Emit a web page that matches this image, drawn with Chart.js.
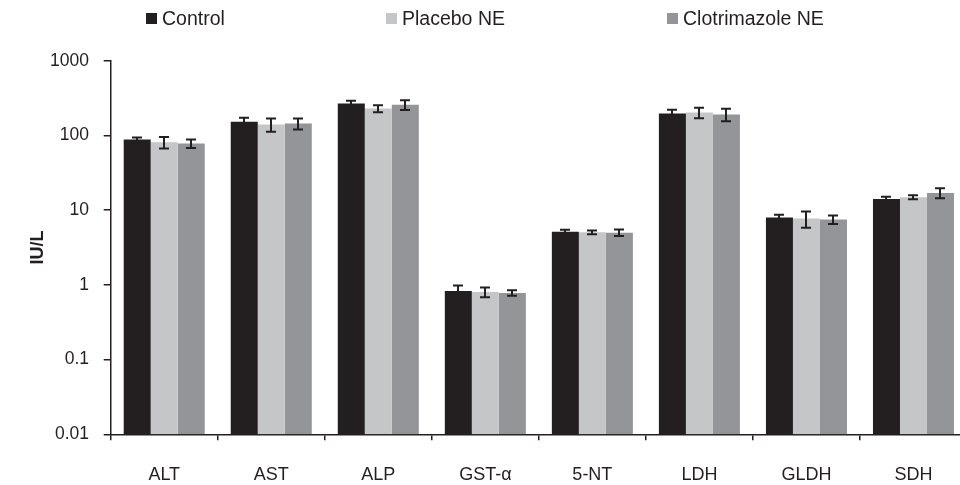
<!DOCTYPE html>
<html>
<head>
<meta charset="utf-8">
<script src="https://cdn.jsdelivr.net/npm/chart.js@4/dist/chart.umd.min.js"></script>
<style>
  html, body { margin: 0; padding: 0; background: #fff; overflow: hidden; width: 960px; height: 485px; }
  #wrap { position: relative; width: 1000px; height: 485px; }
  #chart { position: absolute; left: 0; top: 0; }
  .box { position: absolute; width: 11px; height: 11px; top: 13px; }
  .lbl { position: absolute; top: 8px; font: 19.5px "Liberation Sans", Arial, sans-serif; line-height: 20px; color: #231f20; white-space: nowrap; }
</style>
</head>
<body>
<div id="wrap">
  <canvas id="chart" width="1000" height="485"></canvas>
  <div id="legend"></div>
</div>
<script>
// Serum enzyme activities (IU/L), mean and SD per group
const categories = ['ALT', 'AST', 'ALP', 'GST-\u03b1', '5-NT', 'LDH', 'GLDH', 'SDH'];
const controlMean = [88, 152, 267, 0.83, 5.15, 196, 8.0, 14.1];
const controlSD   = [6, 20, 23, 0.15, 0.3, 24, 0.65, 1.0];
const placeboMean = [81, 140, 229, 0.80, 5.05, 202, 7.7, 14.9];
const placeboSD   = [14, 28, 25, 0.12, 0.3, 32, 1.9, 0.9];
const clotMean    = [78, 144, 257, 0.78, 5.0, 191, 7.5, 17.0];
const clotSD      = [10, 24, 38, 0.065, 0.5, 36, 1.0, 2.6];
const yTicks = [0.01, 0.1, 1, 10, 100, 1000];
const seriesNames = ['Control', 'Placebo NE', 'Clotrimazole NE'];

const INK = '#231f20';
const COLORS = ['#231f20', '#c5c6c8', '#939598'];
const FONT = '"Liberation Sans", Arial, sans-serif';

// legend row above the plot
const legendSpots = [146, 386, 667];
const legend = document.getElementById('legend');
seriesNames.forEach((name, i) => {
  const b = document.createElement('div');
  b.className = 'box';
  b.style.left = legendSpots[i] + 'px';
  b.style.background = COLORS[i];
  const t = document.createElement('div');
  t.className = 'lbl';
  t.style.left = (legendSpots[i] + 16) + 'px';
  t.textContent = name;
  legend.appendChild(b);
  legend.appendChild(t);
});

const sds = [controlSD, placeboSD, clotSD];

// mean ± SD whiskers drawn over each bar
const errorBars = {
  id: 'errorBars',
  afterDatasetsDraw(chart) {
    const ctx = chart.ctx;
    const y = chart.scales.y;
    ctx.save();
    ctx.strokeStyle = INK;
    ctx.lineWidth = 2;
    chart.data.datasets.forEach((ds, i) => {
      const meta = chart.getDatasetMeta(i);
      meta.data.forEach((bar, j) => {
        const m = ds.data[j], sd = sds[i][j];
        const top = y.getPixelForValue(m + sd);
        const bot = y.getPixelForValue(Math.max(m - sd, y.min));
        const x = Math.round(bar.x);
        ctx.beginPath();
        ctx.moveTo(x, top); ctx.lineTo(x, bot);
        ctx.moveTo(x - 5, top); ctx.lineTo(x + 5, top);
        ctx.moveTo(x - 5, bot); ctx.lineTo(x + 5, bot);
        ctx.stroke();
      });
    });
    ctx.restore();
  }
};

new Chart(document.getElementById('chart'), {
  type: 'bar',
  data: {
    labels: categories,
    datasets: [
      { label: seriesNames[0], data: controlMean, backgroundColor: COLORS[0] },
      { label: seriesNames[1], data: placeboMean, backgroundColor: COLORS[1] },
      { label: seriesNames[2], data: clotMean, backgroundColor: COLORS[2] }
    ]
  },
  options: {
    responsive: false,
    animation: false,
    devicePixelRatio: 1,
    categoryPercentage: 0.757,
    barPercentage: 1.0,
    layout: { padding: { top: 60.7, right: 33, bottom: 0, left: 0 } },
    plugins: { legend: { display: false }, tooltip: { enabled: false } },
    scales: {
      x: {
        type: 'category',
        offset: true,
        grid: { offset: true, drawOnChartArea: false, drawTicks: true, tickLength: 6, color: INK, lineWidth: 1.5 },
        border: { display: true, color: INK, width: 1.5 },
        ticks: { color: INK, font: { family: FONT, size: 18 }, padding: 24, maxRotation: 0 },
        afterFit(s) { s.height = 50.7; }
      },
      y: {
        type: 'logarithmic',
        min: 0.01,
        max: 1000,
        afterBuildTicks(s) { s.ticks = yTicks.map(v => ({ value: v })); },
        grid: { drawOnChartArea: false, drawTicks: true, tickLength: 7, color: INK, lineWidth: 1.5 },
        border: { display: true, color: INK, width: 1.5 },
        ticks: {
          color: INK, font: { family: FONT, size: 17.5 }, padding: 14.7,
          callback: (v) => String(v)
        },
        title: {
          display: true, text: 'IU/L', color: INK,
          font: { family: FONT, size: 18, weight: 'bold' },
          padding: { top: 27, bottom: 0 }
        },
        afterFit(s) { s.width = 110.7; }
      }
    }
  },
  plugins: [errorBars]
});
</script>
</body>
</html>
